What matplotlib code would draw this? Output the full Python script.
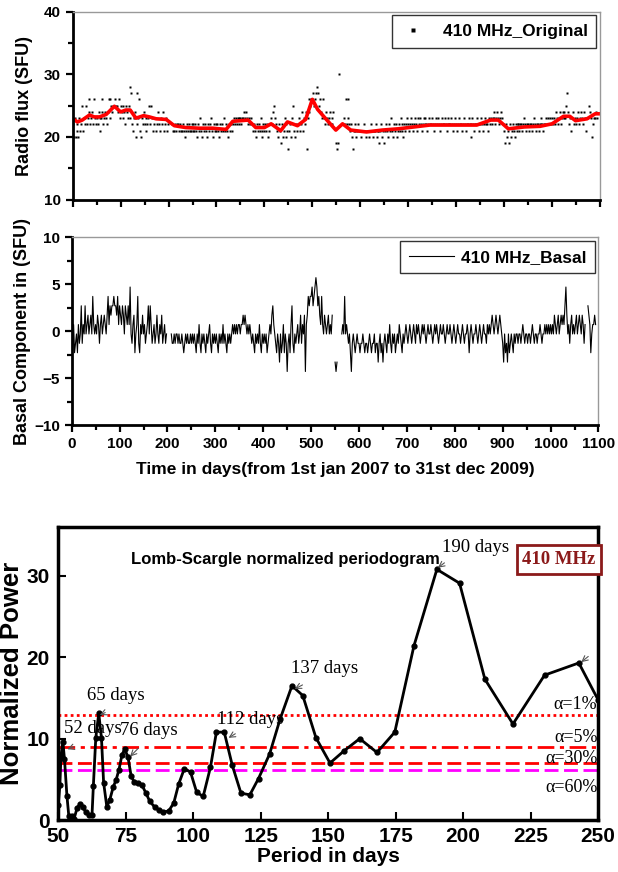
import numpy as np
import matplotlib
matplotlib.use("Agg")
from matplotlib import pyplot as plt
from matplotlib import font_manager
from matplotlib.ticker import MultipleLocator

# daily 410 MHz flux (SFU), one value every 2 days
day_step = 2
flux_410 = [
    22, 20, 23, 20, 21, 22, 20, 23, 21, 22, 25, 21, 23, 22, 25, 22, 23, 24, 22, 23, 24, 22, 26, 23, 22,
    23, 22, 24, 23, 21, 23, 24, 22, 23, 24, 23, 22, 24, 26, 23, 25, 24, 25, 25, 26, 25, 25, 24, 26, 23,
    25, 24, 23, 25, 24, 22, 25, 24, 23, 25, 23, 27, 22, 21, 23, 24, 20, 22, 23, 26, 21, 20, 23, 22, 24,
    22, 23, 21, 22, 23, 25, 22, 25, 23, 21, 22, 23, 21, 22, 24, 22, 21, 23, 22, 24, 21, 22, 23, 21, 22,
    None, None, None, None, 22, 21, 21, 22, 21, 22, 22, 21, 22, 21, 21, 22, 21, 20, 21, 22, 21, 22, 21, 21, 22,
    21, 22, 21, 22, 21, 20, 22, 21, 23, 21, 20, 22, 21, 22, 21, 20, 22, 21, 22, 23, 21, 20, 22, 21, 22,
    21, 22, 21, 20, 22, 21, 22, 21, 23, 21, 22, 21, 20, 22, 21, 22, 21, 22, 23, 22, 23, 22, 23, 22, 23,
    23, 22, 23, 23, 24, 23, 24, 23, 22, 23, 22, 23, 22, 21, 22, 21, 20, 22, 21, 22, 21, 23, 21, 20, 22,
    21, 22, 21, 22, 20, 21, 22, 23, 22, 24, 25, 23, 22, 21, 20, 22, 21, 19, 22, 20, 21, 23, 20, 22, 21,
    18, 21, 22, 20, 23, 25, 21, 20, 22, 21, 22, 23, 21, 22, 24, 21, 23, 22, 24, 18, 23, 24, 26, 25, 26,
    26, 27, 25, 26, 27, 28, 27, 25, 26, 24, 23, 26, 23, 22, 24, 23, 22, 23, 24, 22, 23, 22, 24, None, None,
    19, 18, 19, None, None, None, None, 22, 23, 22, 26, 22, 23, 22, 21, 22, 20, 18, 21, 22, 21, 20, 21, 22, 21,
    21, 20, 21, 21, 22, 21, 20, 21, 21, 20, 21, 22, 21, 20, 21, 21, 22, 20, 21, 21, 19, 21, 22, 20, 21,
    19, 21, 22, 21, 20, 22, 21, 23, 21, 20, 22, 21, 22, 20, 21, 22, 21, 23, 22, 21, 20, 22, 21, 22, 23,
    22, 21, 22, 23, 22, 21, 22, 23, 22, 21, 23, 22, 23, 22, 21, 22, 23, 22, 23, 22, 21, 22, 23, 22, 22,
    23, 22, 21, 22, 23, 22, 23, 22, 21, 22, 23, 22, 22, 23, 22, 21, 22, 23, 22, 22, 23, 22, 21, 22, 23,
    22, 21, 22, 23, 22, 22, 21, 22, 23, 22, 21, 22, 22, 23, 22, 20, 22, 23, 22, 21, 22, 22, 23, 22, 21,
    22, 23, 22, 21, 22, 23, 22, 22, 21, 23, 22, 23, 22, 23, 24, 23, 22, 23, 24, 23, 22, 23, 24, 23, 22,
    21, 19, 22, 20, 21, 19, 22, 20, 21, 22, 21, 20, 22, 21, 22, 22, 21, 22, 22, 21, 22, 23, 22, 21, 22,
    22, 21, 22, 22, 21, 22, 23, 22, 21, 22, 22, 21, 22, 22, 23, 22, 21, 22, 22, 23, 22, 23, 22, 23, 22,
    23, 22, 23, 22, 24, 23, 22, 23, 24, 22, 23, 24, 23, 24, 23, 25, 27, 24, 22, 23, 21, 23, 24, 22, 23,
    22, 23, 24, 22, 23, 24, 23, 22, 24, 23, 21, 23, None, None, 25, 24, 23, 20, 22, 23, 23, 24, 23,
]
basal_level = 22.3  # background level removed to get the basal component

# isolated dots seen only in the top panel
extra_days = [34, 62, 78, 119, 134, 555, 575]
extra_flux = [26, 26, 26, 28, 27, 30, 26]

# red running mean in the top panel
smooth_days = [0, 10, 20, 35, 45, 56, 70, 87, 100, 111, 120, 132, 148, 160, 174, 195, 212, 236,
               264, 292, 320, 334, 351, 366, 382, 400, 414, 434, 448, 469, 486, 500, 511, 528,
               549, 563, 580, 613, 646, 679, 712, 745, 777, 810, 843, 872, 888, 909, 942, 975,
               1000, 1024, 1037, 1049, 1073, 1090, 1100]
smooth_flux = [22.9, 22.4, 22.7, 23.5, 23.2, 23.2, 23.6, 24.9, 24.0, 24.3, 24.3, 23.0, 23.4, 23.2,
               22.9, 22.8, 21.8, 21.5, 21.4, 21.4, 21.2, 22.5, 22.6, 22.7, 21.5, 21.5, 22.1, 21.0,
               22.4, 21.8, 22.8, 26.0, 24.4, 22.9, 21.1, 22.1, 21.1, 20.8, 21.1, 21.3, 21.6, 21.9,
               21.9, 21.9, 21.9, 22.7, 22.7, 21.3, 21.6, 21.7, 22.1, 23.3, 23.3, 22.6, 22.9, 23.7, 23.7]

# Lomb-Scargle periodogram
period = [50, 50.6, 51, 51.7, 52.3, 53.2, 53.9, 55, 55.8, 57, 58.1, 59, 60.2, 61.3, 62.5, 63, 63.9,
          65, 66, 66.8, 68, 69.1, 70.4, 71.4, 72.5, 73.6, 74.6, 75.8, 77, 78.1, 79.6, 81, 82.5, 83.9,
          85.7, 87.4, 88.9, 90.9, 92.8, 94.6, 96.7, 99, 101.3, 103.7, 106.4, 108.6, 111.5, 114.5,
          117.7, 121, 124.2, 128.3, 132.2, 136.6, 140.6, 145.5, 150.7, 155.9, 161.7, 168.1, 174.7,
          181.8, 190.3, 198.7, 208.1, 218.5, 230.2, 242.9, 250]
power = [1.9, 4.3, 7.9, 9.6, 7.5, 3.0, 0.5, 0.5, 0.1, 1.5, 2.0, 1.6, 1.0, 0.6, 0.6, 4.2, 10.1,
         13.1, 10.1, 4.6, 1.6, 2.5, 4.1, 4.9, 6.2, 8.0, 8.7, 7.8, 5.4, 4.7, 4.6, 4.3, 3.3, 2.3,
         1.6, 1.2, 1.0, 1.1, 2.1, 4.4, 6.3, 5.9, 3.4, 2.9, 6.5, 10.8, 10.8, 6.7, 3.3, 3.1, 5.1,
         8.1, 12.4, 16.5, 15.3, 10.1, 7.0, 8.5, 10.0, 8.3, 10.8, 21.4, 30.8, 29.1, 17.3, 11.8,
         17.8, 19.3, 14.8]
sig_labels = ["α=1%", "α=5%", "α=30%", "α=60%"]
sig_levels = [12.9, 9.0, 7.0, 6.1]
sig_colors = ["red", "red", "red", "magenta"]
sig_styles = [(0, (1, 1.2)), (0, (6, 2, 1.5, 2)), (0, (5, 2)), (0, (5, 2))]
sig_label_y = [14.2, 10.1, 7.6, 4.0]

peak_labels = ["52 days", "65 days", "76 days", "112 days", "137 days", "190 days"]
peak_text_xy = [(52.2, 10.2), (60.7, 14.2), (72.8, 10.0), (109.0, 11.3), (136.1, 17.6), (192.1, 32.5)]
peak_xy = [(53.4, 8.7), (65.4, 12.9), (76.6, 7.8), (113.1, 10.1), (137.6, 16.1), (190.7, 31.0)]
peak_tail = [(55.8, 9.0), (67.4, 13.2), (79.6, 8.8), (115.6, 10.6), (140.5, 16.6), (193.1, 31.6)]

installed = {f.name for f in font_manager.fontManager.ttflist}
narrow = "Liberation Sans Narrow" if "Liberation Sans Narrow" in installed else "Liberation Sans"

plt.rcParams['font.family'] = ['Liberation Sans', 'DejaVu Sans']
plt.rcParams['font.weight'] = 'bold'
plt.rcParams['axes.labelweight'] = 'bold'

flux_arr = np.array(flux_410, dtype=float)
days = np.arange(len(flux_arr)) * day_step
basal = flux_arr - basal_level

fig = plt.figure(figsize=(6.18, 8.72), dpi=100)
ax1 = fig.add_axes([0.1176, 0.7711, 0.8532, 0.2155])
ax2 = fig.add_axes([0.116, 0.5126, 0.8524, 0.2153])
ax3 = fig.add_axes([0.0943, 0.0596, 0.8733, 0.336])

def style_top(ax):
	for s in ['left', 'bottom']:
		ax.spines[s].set_linewidth(2)
		ax.spines[s].set_color('black')
	for s in ['top', 'right']:
		ax.spines[s].set_linewidth(1)
		ax.spines[s].set_color('#999999')
	ax.tick_params(which='both', direction='out', top=False, right=False, width=1.6)
	ax.tick_params(which='major', length=5, labelsize=11)
	ax.tick_params(which='minor', length=3.5)
	ax.set_xlim(0, 1100)
	ax.xaxis.set_major_locator(MultipleLocator(100))
	ax.xaxis.set_minor_locator(MultipleLocator(50))

# top panel
ax1.plot(days, flux_arr, 's', ms=1.8, color='black', mec='none', label='410 MHz_Original')
ax1.plot(extra_days, extra_flux, 's', ms=1.8, color='black', mec='none')
ax1.plot(smooth_days, smooth_flux, color='red', lw=2.6)
style_top(ax1)
ax1.set_ylim(10, 40)
ax1.yaxis.set_major_locator(MultipleLocator(10))
ax1.yaxis.set_minor_locator(MultipleLocator(5))
ax1.tick_params(axis='x', labelbottom=False)
ax1.set_ylabel("Radio flux (SFU)", fontsize=13, labelpad=8)
leg = ax1.legend(loc='upper right', fancybox=False, edgecolor='#333333', framealpha=1,
                 prop={'size': 12.5, 'weight': 'bold'}, markerscale=1.5, handlelength=1.4,
                 handletextpad=1.0, borderaxespad=0.2, borderpad=0.5)
leg.get_frame().set_linewidth(1)

# middle panel
ax2.plot(days, basal, color='black', lw=0.8, label='410 MHz_Basal')
style_top(ax2)
ax2.set_ylim(-10, 10)
ax2.yaxis.set_major_locator(MultipleLocator(5))
ax2.yaxis.set_minor_locator(MultipleLocator(2.5))
ax2.set_ylabel("Basal Component in (SFU)", fontsize=13, labelpad=2)
ax2.set_xlabel("Time in days(from 1st jan 2007 to 31st dec 2009)", fontsize=12.5, labelpad=8)
leg2 = ax2.legend(loc='upper right', fancybox=False, edgecolor='#333333', framealpha=1,
                  prop={'size': 12.5, 'weight': 'bold'}, handlelength=2.6, handletextpad=0.4,
                  borderaxespad=0.2, borderpad=0.5)
leg2.get_frame().set_linewidth(1)

# bottom panel
for lvl, col, ls in zip(sig_levels, sig_colors, sig_styles):
	ax3.axhline(lvl, color=col, lw=2, linestyle=ls, zorder=1)
ax3.plot(period, power, '-o', color='black', lw=2, ms=3.5, zorder=3)
ax3.set_xlim(50, 250)
ax3.set_ylim(0, 36)
ax3.xaxis.set_major_locator(MultipleLocator(25))
ax3.yaxis.set_major_locator(MultipleLocator(10))
for s in ax3.spines.values():
	s.set_linewidth(2.5)
ax3.tick_params(direction='in', length=6, width=1.5, labelsize=15, top=False, right=False)
ax3.tick_params(axis='y', pad=6)
ax3.tick_params(axis='x', pad=5)
ax3.set_xlabel("Period in days", fontsize=15, labelpad=1)
ax3.set_ylabel("Normalized Power", fontsize=18.5, labelpad=2)

for lab, txy, pxy, tail in zip(peak_labels, peak_text_xy, peak_xy, peak_tail):
	ax3.text(txy[0], txy[1], lab, family='Liberation Serif', weight='normal', fontsize=13.5,
	         ha='left', va='bottom', zorder=4)
	ax3.annotate("", xy=pxy, xytext=tail,
	             arrowprops=dict(arrowstyle='->', color='#555555', lw=0.8, shrinkA=0, shrinkB=0))
ax3.annotate("", xy=(243.8, 19.4), xytext=(246.4, 20.1),
             arrowprops=dict(arrowstyle='->', color='#555555', lw=0.8, shrinkA=0, shrinkB=0))

ax3.text(77.1, 32.0, "Lomb-Scargle normalized periodogram", family=narrow, fontsize=12,
         weight='bold', ha='left', va='center')
ax3.text(235.6, 32.0, "410 MHz", family='Liberation Serif', fontsize=13.5, weight='bold',
         color='#8b1a1a', ha='center', va='center',
         bbox=dict(boxstyle='square,pad=0.3', fc='white', ec='#8b1a1a', lw=2))
for lab, y in zip(sig_labels, sig_label_y):
	ax3.text(249.8, y, lab, family='Liberation Serif', fontsize=13, weight='normal',
	         ha='right', va='center', zorder=4)

fig.savefig("out.png", dpi=100)
